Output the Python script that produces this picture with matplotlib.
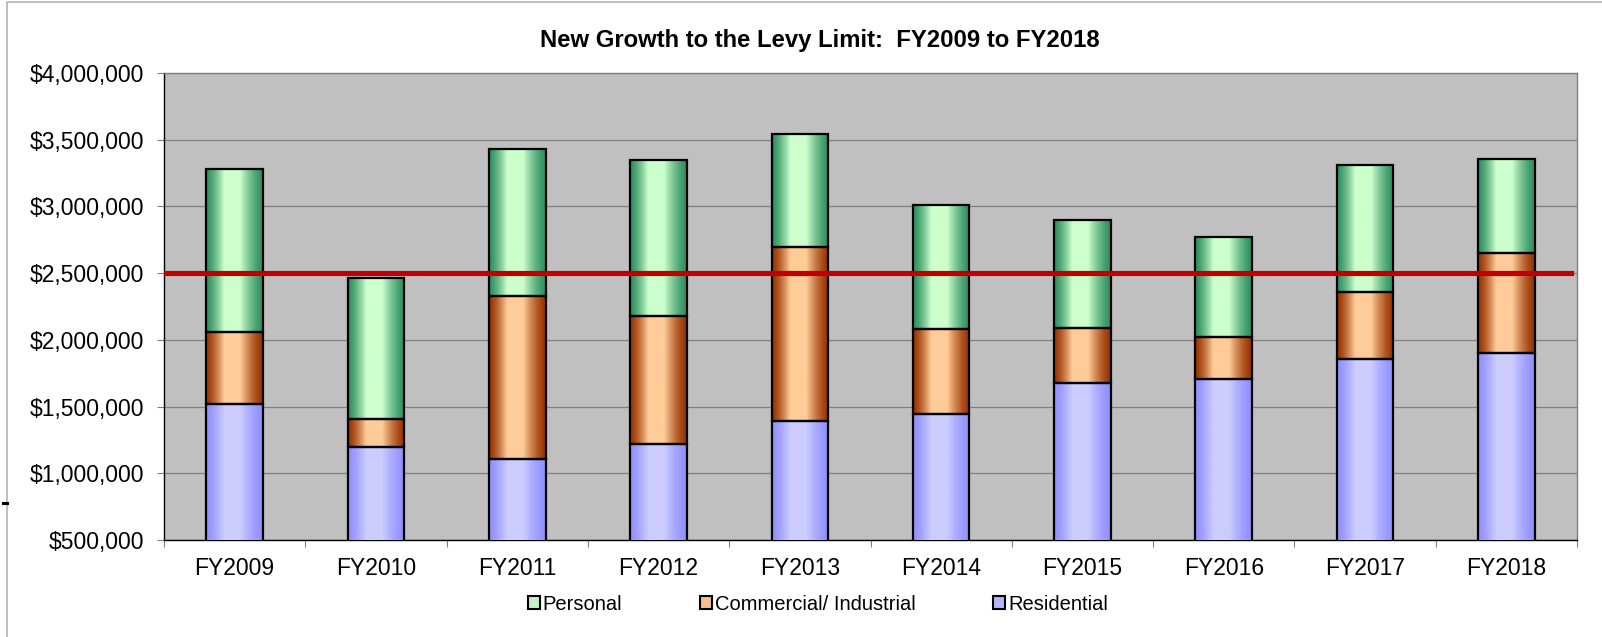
import numpy as np
import matplotlib
matplotlib.use('Agg')
from matplotlib import pyplot as plt
from matplotlib.patches import Patch, Rectangle
from matplotlib.lines import Line2D
from matplotlib.ticker import FuncFormatter, MultipleLocator

plt.rcParams['font.family'] = ['Liberation Sans', 'DejaVu Sans']

# data
years = ['FY2009', 'FY2010', 'FY2011', 'FY2012', 'FY2013',
         'FY2014', 'FY2015', 'FY2016', 'FY2017', 'FY2018']
residential = [1518000, 1199000, 1106000, 1217000, 1395000,
               1445000, 1680000, 1708000, 1853000, 1904000]
commercial = [541000, 208000, 1219000, 962000, 1300000,
              636000, 409000, 316000, 507000, 744000]
personal = [1218000, 1060000, 1105000, 1168000, 848000,
            933000, 807000, 749000, 950000, 709000]
levy_line = 2500000

# colours: (dark edge, light centre) for the shaded bars
shades = {
    'Personal': ('#2E9060', '#CCFFCC'),
    'Commercial/ Industrial': ('#993300', '#FFCC99'),
    'Residential': ('#9090FF', '#CCCCFF'),
}
legend_fill = {
    'Personal': '#C4F2C8',
    'Commercial/ Industrial': '#F7BE8E',
    'Residential': '#B4B4F8',
}


def gradient(dark, light, n=200):
    # dark -> light -> dark across the bar, like excel's shading
    d = np.array(matplotlib.colors.to_rgb(dark))
    l = np.array(matplotlib.colors.to_rgb(light))
    t = np.linspace(0, 1, n)
    w = np.ones(n)
    w[t < 0.32] = t[t < 0.32] / 0.32
    w[t > 0.6] = 1 - (t[t > 0.6] - 0.6) / 0.4
    w = np.clip(w, 0, 1) ** 1.4
    rgb = d[None, :] * (1 - w[:, None]) + l[None, :] * w[:, None]
    return rgb[None, :, :]


fig = plt.figure(figsize=(16.02, 6.37), dpi=100)
ax = fig.add_axes([164 / 1602, 1 - 540 / 637, 1413 / 1602, 467 / 637])
ax.set_facecolor('#C0C0C0')

x = np.arange(len(years))
res = np.array(residential)
com = np.array(commercial)
per = np.array(personal)

stack = [('Residential', res, 0),
         ('Commercial/ Industrial', com, res),
         ('Personal', per, res + com)]

for name, vals, bottom in stack:
    bars = ax.bar(x, vals, bottom=bottom, width=0.4, facecolor='none',
                  edgecolor='black', linewidth=1.6, zorder=4)
    img = gradient(*shades[name])
    for b in bars:
        x0, y0 = b.get_x(), b.get_y()
        im = ax.imshow(img, extent=[x0, x0 + b.get_width(), y0, y0 + b.get_height()],
                       aspect='auto', interpolation='bilinear', zorder=3)
        im.set_clip_path(b)
        im.set_clip_box(ax.bbox)

# levy limit line
ax.axhline(levy_line, xmin=0.001, xmax=0.996, color='#C00000', lw=3.7, zorder=5)

# axes
ax.set_xlim(-0.5, len(years) - 0.5)
ax.set_ylim(500000, 4000000)
ax.yaxis.set_major_locator(MultipleLocator(500000))
ax.yaxis.set_major_formatter(FuncFormatter(lambda v, p: '${:,.0f}'.format(v)))
ax.grid(axis='y', color='#808080', lw=0.9, zorder=1)
ax.set_axisbelow(True)

ax.set_xticks(x)
ax.set_xticklabels(years)
ax.set_xticks(np.arange(-0.5, len(years), 1), minor=True)
ax.tick_params(axis='x', which='major', length=0, pad=12, labelsize=16.5)
ax.tick_params(axis='x', which='minor', length=5, color='#808080', width=0.8)
ax.tick_params(axis='y', length=5, color='#808080', width=0.8, pad=9, labelsize=16.5)

ax.spines['left'].set_color('black')
ax.spines['bottom'].set_color('black')
ax.spines['top'].set_color('#808080')
ax.spines['right'].set_color('#808080')
for s in ax.spines.values():
    s.set_linewidth(1.0)

fig.text(0.512, 1 - 41 / 637, 'New Growth to the Levy Limit:  FY2009 to FY2018',
         ha='center', va='center', fontsize=17.2, fontweight='bold')

# legend
names = ['Personal', 'Commercial/ Industrial', 'Residential']
handles = [Patch(facecolor=legend_fill[n], edgecolor='black', lw=1.5) for n in names]
fig.legend(handles, names, loc='center', bbox_to_anchor=(0.5106, 1 - 604 / 637),
           ncol=3, frameon=False, fontsize=14.5, handlelength=0.6, handleheight=0.6,
           handletextpad=0.15, columnspacing=3.85)

# chart area border and stray mark
fig.patches.append(Rectangle((7 / 1602, -0.1), 1.2, 1.1 - 2.3 / 637, transform=fig.transFigure,
                             fill=False, edgecolor='#B4B4B4', lw=1.2))
fig.add_artist(Line2D([3 / 1602, 7 / 1602], [1 - 503 / 637] * 2, color='black', lw=2.2))

fig.savefig('out.png', dpi=100)
